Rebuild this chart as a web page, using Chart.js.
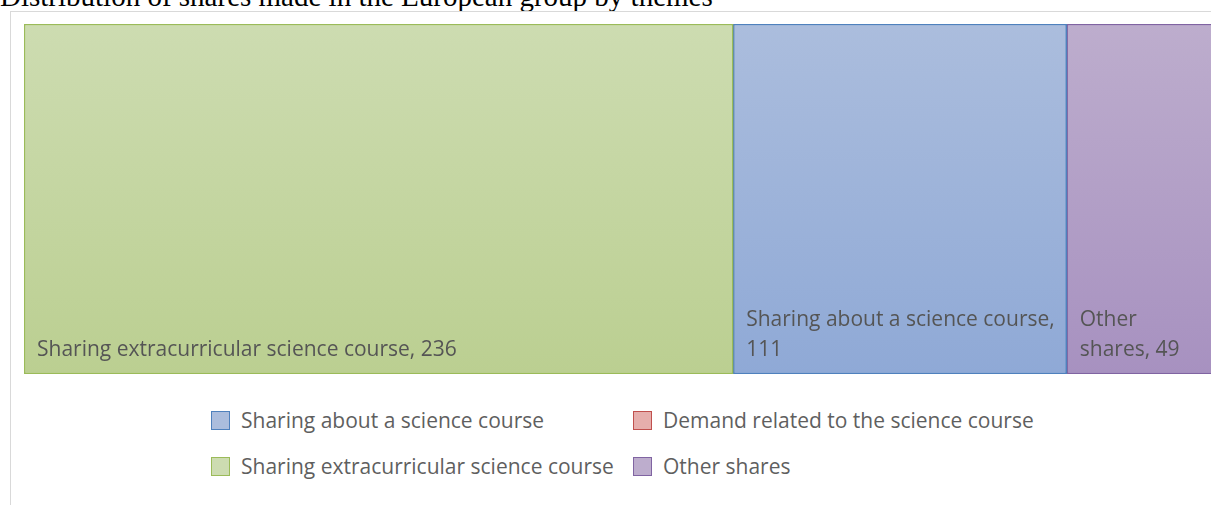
<!DOCTYPE html>
<html>
<head>
<meta charset="utf-8">
<script src="https://cdn.jsdelivr.net/npm/chart.js@4.4.1/dist/chart.umd.min.js"></script>
<style>
  body { margin: 0; width: 1211px; height: 505px; overflow: hidden; background: #fff; position: relative; font-family: "Open Sans", sans-serif; }
  #title { position: absolute; left: 0; top: -18px; font: 29px/29px "Liberation Serif", "Times New Roman", serif; color: #000; white-space: nowrap; }
  #frame { position: absolute; left: 10px; top: 11px; width: 1210px; height: 500px; border-left: 1px solid #d9d9d9; border-top: 1px solid #d9d9d9; }
  #wrap { position: absolute; left: 11px; top: 12px; width: 1203px; height: 362px; }
  #legend { position: absolute; left: 211px; top: 405px; display: grid; grid-template-columns: 422px auto; row-gap: 16px; }
  .item { display: flex; align-items: center; height: 30px; font-size: 21px; color: #5f5f5f; }
  .box { width: 19px; height: 19px; box-sizing: border-box; margin-right: 11px; border: 1px solid; flex: none; }
</style>
</head>
<body>
<div id="title">Distribution of shares made in the European group by themes</div>
<div id="frame"></div>
<div id="wrap"><canvas id="myChart"></canvas></div>
<div id="legend"></div>

<script>
// values, in the order the blocks are laid out
var themes = [
  'Sharing extracurricular science course',
  'Sharing about a science course',
  'Demand related to the science course',
  'Other shares'
];
var counts = [236, 111, 0, 49];
var borderColors = ['#9bbb59', '#4f81bd', '#c0504d', '#8064a2'];
var topColors = ['#cddcb1', '#abbddd', '#e6aeac', '#bdadcd'];
var bottomColors = ['#bbcf91', '#8fa9d6', '#d98c8a', '#a791c0'];
// legend goes row by row: blue, red / green, purple
var legendOrder = [1, 2, 0, 3];

var total = counts.reduce((a, b) => a + b, 0);

function fillFor(i) {
  return function(ctx) {
    const area = ctx.chart.chartArea;
    if (!area) return topColors[i];
    const g = ctx.chart.ctx.createLinearGradient(0, area.top, 0, area.bottom);
    g.addColorStop(0, topColors[i]);
    g.addColorStop(1, bottomColors[i]);
    return g;
  };
}

function wrapText(c, text, maxW) {
  var words = text.split(' ');
  var lines = [];
  var line = '';
  words.forEach(w => {
    var test = line ? line + ' ' + w : w;
    if (c.measureText(test).width > maxW && line) {
      lines.push(line);
      line = w;
    } else {
      line = test;
    }
  });
  if (line) lines.push(line);
  return lines;
}

// draws "name, value" in the lower-left corner of each block
const blockLabels = {
  id: 'blockLabels',
  afterDatasetsDraw(chart) {
    const c = chart.ctx;
    c.save();
    c.font = '21px "Open Sans", sans-serif';
    c.fillStyle = '#555555';
    c.textBaseline = 'middle';
    chart.data.datasets.forEach((ds, i) => {
      if (!ds.data[0]) return;
      const bar = chart.getDatasetMeta(i).data[0];
      const left = Math.min(bar.x, bar.base);
      const w = Math.abs(bar.x - bar.base);
      const lines = wrapText(c, ds.label + ', ' + ds.data[0], w - 22);
      const bottom = bar.y + bar.height / 2;
      lines.forEach((ln, k) => {
        c.fillText(ln, left + 13, bottom - 24 - (lines.length - 1 - k) * 30);
      });
    });
    c.restore();
  }
};

const data = {
  labels: ['themes'],
  datasets: themes.map((t, i) => ({
    label: t,
    data: [counts[i]],
    backgroundColor: fillFor(i),
    borderColor: borderColors[i],
    borderWidth: 1.5,
    borderSkipped: false,
    barPercentage: 1,
    categoryPercentage: 1
  }))
};

const config = {
  type: 'bar',
  data,
  options: {
    indexAxis: 'y',
    animation: false,
    responsive: true,
    maintainAspectRatio: false,
    layout: { padding: { left: 13, top: 12, right: 0, bottom: 0 } },
    plugins: {
      legend: { display: false },
      tooltip: { enabled: false }
    },
    scales: {
      x: { stacked: true, min: 0, max: total, display: false },
      y: { stacked: true, display: false }
    }
  },
  plugins: [blockLabels]
};

document.addEventListener('DOMContentLoaded', () => {
  new Chart(document.getElementById('myChart'), config);

  const legendDiv = document.getElementById('legend');
  legendOrder.forEach(i => {
    const item = document.createElement('div');
    item.className = 'item';
    const box = document.createElement('span');
    box.className = 'box';
    box.style.borderColor = borderColors[i];
    box.style.background = topColors[i];
    item.appendChild(box);
    item.appendChild(document.createTextNode(themes[i]));
    legendDiv.appendChild(item);
  });
});
</script>
</body>
</html>
